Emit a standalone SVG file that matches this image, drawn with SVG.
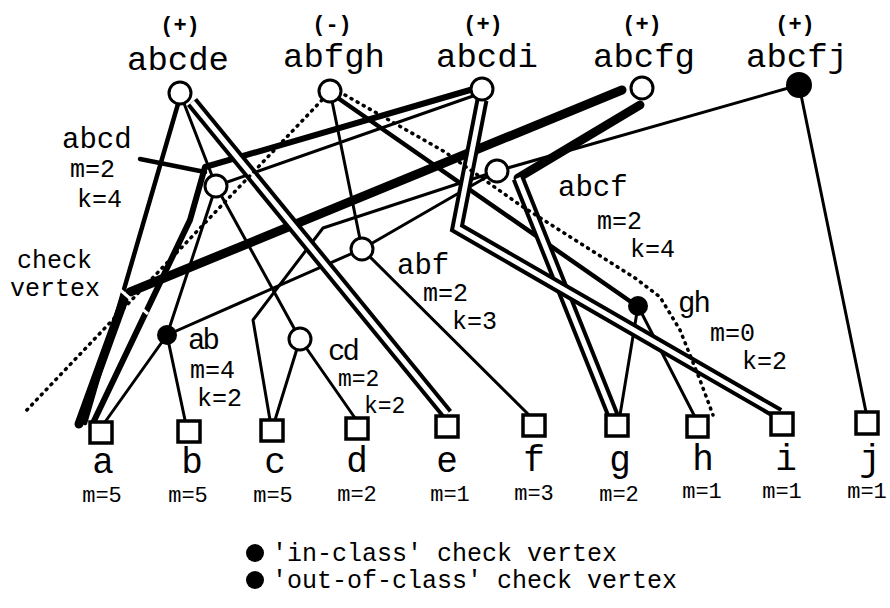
<svg xmlns="http://www.w3.org/2000/svg" width="890" height="608" viewBox="0 0 890 608">
<style>
text{font-family:"Liberation Mono","Courier New",monospace;fill:#000}
.c{fill:none;stroke:#000;stroke-linecap:round;stroke-linejoin:round}
.t{stroke-width:3}
.m{stroke-width:4.5}
.k{stroke-width:6}
.h{stroke-width:9}
.do{fill:none;stroke:#000;stroke-width:13;stroke-linejoin:miter}
.di{fill:none;stroke:#fff;stroke-width:5;stroke-linejoin:miter}
.dot{fill:none;stroke:#000;stroke-width:3.5;stroke-dasharray:1 6;stroke-linecap:round}
.n{fill:#fff;stroke:#000;stroke-width:3}
.f{fill:#000}
.leaf{fill:#fff;stroke:#000;stroke-width:3.5}
.top{font-size:34px;text-anchor:middle}
.sg{font-size:22px;font-weight:bold;text-anchor:middle}
.lb{font-size:29px}
.mk{font-size:25px}
.bl{font-size:36px;text-anchor:middle}
.bm{font-size:22px;text-anchor:middle}
.lg{font-size:25px}
</style>
<g id="connectors">
  <line class="c t" x1="180" y1="93" x2="216" y2="186"/>
  <line class="c t" x1="216" y1="186" x2="167" y2="335"/>
  <line class="c t" x1="216" y1="186" x2="300" y2="339"/>
  <line class="c t" x1="473" y1="96" x2="216" y2="186"/>
  <line class="c t" x1="330" y1="91" x2="362" y2="249"/>
  <line class="c t" x1="362" y1="249" x2="167" y2="335"/>
  <line class="c t" x1="362" y1="249" x2="532" y2="418"/>
  <line class="c t" x1="497" y1="171" x2="362" y2="249"/>
  <polyline class="c t" points="270,420 253,320 323,228 497,171"/>
  <line class="c t" x1="300" y1="339" x2="275" y2="420"/>
  <line class="c t" x1="300" y1="339" x2="355" y2="418"/>
  <line class="c t" x1="167" y1="335" x2="105" y2="422"/>
  <line class="c t" x1="167" y1="335" x2="185" y2="420"/>
  <line class="c t" x1="638" y1="306" x2="620" y2="415"/>
  <line class="c t" x1="638" y1="306" x2="695" y2="417"/>
  <line class="c t" x1="799" y1="85" x2="497" y2="171"/>
  <line class="c t" x1="799" y1="85" x2="866" y2="412"/>
  <line class="c m" x1="335" y1="96" x2="634" y2="304"/>
  <line class="c m" x1="178" y1="104" x2="85" y2="423"/>
  <line class="c m" x1="140" y1="159" x2="205" y2="172"/>
  <polyline class="c k" points="470,90 205,167 190,220 93,423"/>
  <polyline class="c h" points="622,90 130,292"/>
  <line class="c h" x1="124" y1="300" x2="79" y2="424"/>
  <line class="c h" x1="640" y1="105" x2="518" y2="178"/>
  <polyline class="do" points="192,102 447,414"/>
  <polyline class="di" points="192,102 447,414"/>
  <polyline class="do" points="518,178 614,418"/>
  <polyline class="di" points="518,178 614,418"/>
  <polyline class="do" points="482,100 457,228 779,414"/>
  <polyline class="di" points="482,100 457,228 779,414"/>
  <line x1="118" y1="288" x2="148" y2="314" stroke="#fff" stroke-width="3"/>
  <line class="dot" x1="322" y1="100" x2="25" y2="412"/>
  <polyline class="dot" points="345,95 445,152 520,205 635,278 660,297 680,330 700,380 713,415"/>
</g>
<g id="n-abcde"><text class="sg" x="180" y="32">(+)</text><text class="top" x="178" y="70">abcde</text><circle class="n" cx="180" cy="93" r="11"/></g>
<g id="n-abfgh"><text class="sg" x="332" y="31">(-)</text><text class="top" x="334" y="67">abfgh</text><circle class="n" cx="330" cy="91" r="11"/></g>
<g id="n-abcdi"><text class="sg" x="483" y="31">(+)</text><text class="top" x="487" y="67">abcdi</text><circle class="n" cx="482" cy="89" r="11"/></g>
<g id="n-abcfg"><text class="sg" x="642" y="31">(+)</text><text class="top" x="644" y="67">abcfg</text><circle class="n" cx="642" cy="88" r="11"/></g>
<g id="n-abcfj"><text class="sg" x="795" y="31">(+)</text><text class="top" x="797" y="67">abcfj</text><circle class="f" cx="799" cy="85" r="13"/></g>
<g id="n-abcd"><circle class="n" cx="216" cy="186" r="11"/><text class="lb" x="62" y="148">abcd</text><text class="mk" x="70" y="177">m=2</text><text class="mk" x="77" y="207">k=4</text></g>
<g id="n-abcf"><circle class="n" cx="497" cy="171" r="11"/><text class="lb" x="558" y="196">abcf</text><text class="mk" x="597" y="229">m=2</text><text class="mk" x="630" y="257">k=4</text></g>
<g id="n-abf"><circle class="n" cx="362" cy="249" r="11"/><text class="lb" x="397" y="274">abf</text><text class="mk" x="423" y="301">m=2</text><text class="mk" x="452" y="329">k=3</text></g>
<g id="n-ab"><circle class="f" cx="167" cy="335" r="10"/><text class="lb" x="188" y="349" letter-spacing="-3">ab</text><text class="mk" x="190" y="378">m=4</text><text class="mk" x="197" y="406">k=2</text></g>
<g id="n-cd"><circle class="n" cx="300" cy="339" r="11"/><text class="lb" x="328" y="360" letter-spacing="-3">cd</text><text x="338" y="386" font-size="23">m=2</text><text x="364" y="413" font-size="23">k=2</text></g>
<g id="n-gh"><circle class="f" cx="638" cy="306" r="10"/><text class="lb" x="678" y="312" letter-spacing="-2">gh</text><text class="mk" x="710" y="341">m=0</text><text class="mk" x="742" y="369">k=2</text></g>
<g id="check-label"><text class="mk" x="17" y="268">check</text><text class="mk" x="10" y="296">vertex</text></g>
<g id="leaf-a"><rect class="leaf" x="90" y="422" width="22" height="21"/><text class="bl" x="103" y="473">a</text><text class="bm" x="102" y="502">m=5</text></g>
<g id="leaf-b"><rect class="leaf" x="178" y="421" width="22" height="21"/><text class="bl" x="192" y="473">b</text><text class="bm" x="188" y="502">m=5</text></g>
<g id="leaf-c"><rect class="leaf" x="261" y="420" width="22" height="21"/><text class="bl" x="275" y="473">c</text><text class="bm" x="273" y="502">m=5</text></g>
<g id="leaf-d"><rect class="leaf" x="346" y="418" width="22" height="21"/><text class="bl" x="357" y="472">d</text><text class="bm" x="357" y="501">m=2</text></g>
<g id="leaf-e"><rect class="leaf" x="436" y="416" width="22" height="21"/><text class="bl" x="447" y="472">e</text><text class="bm" x="450" y="501">m=1</text></g>
<g id="leaf-f"><rect class="leaf" x="523" y="415" width="22" height="21"/><text class="bl" x="534" y="471">f</text><text class="bm" x="534" y="500">m=3</text></g>
<g id="leaf-g"><rect class="leaf" x="606" y="415" width="22" height="21"/><text class="bl" x="620" y="471">g</text><text class="bm" x="619" y="501">m=2</text></g>
<g id="leaf-h"><rect class="leaf" x="687" y="416" width="21" height="21"/><text class="bl" x="703" y="470">h</text><text class="bm" x="702" y="498">m=1</text></g>
<g id="leaf-i"><rect class="leaf" x="771" y="413" width="22" height="22"/><text class="bl" x="786" y="470">i</text><text class="bm" x="782" y="498">m=1</text></g>
<g id="leaf-j"><rect class="leaf" x="856" y="412" width="22" height="22"/><text class="bl" x="870" y="470">j</text><text class="bm" x="867" y="498">m=1</text></g>
<g id="legend">
  <circle class="f" cx="255" cy="553" r="9"/><text class="lg" x="272" y="561">'in-class' check vertex</text>
  <circle class="f" cx="255" cy="580" r="9"/><text class="lg" x="272" y="588">'out-of-class' check vertex</text>
</g>
</svg>
